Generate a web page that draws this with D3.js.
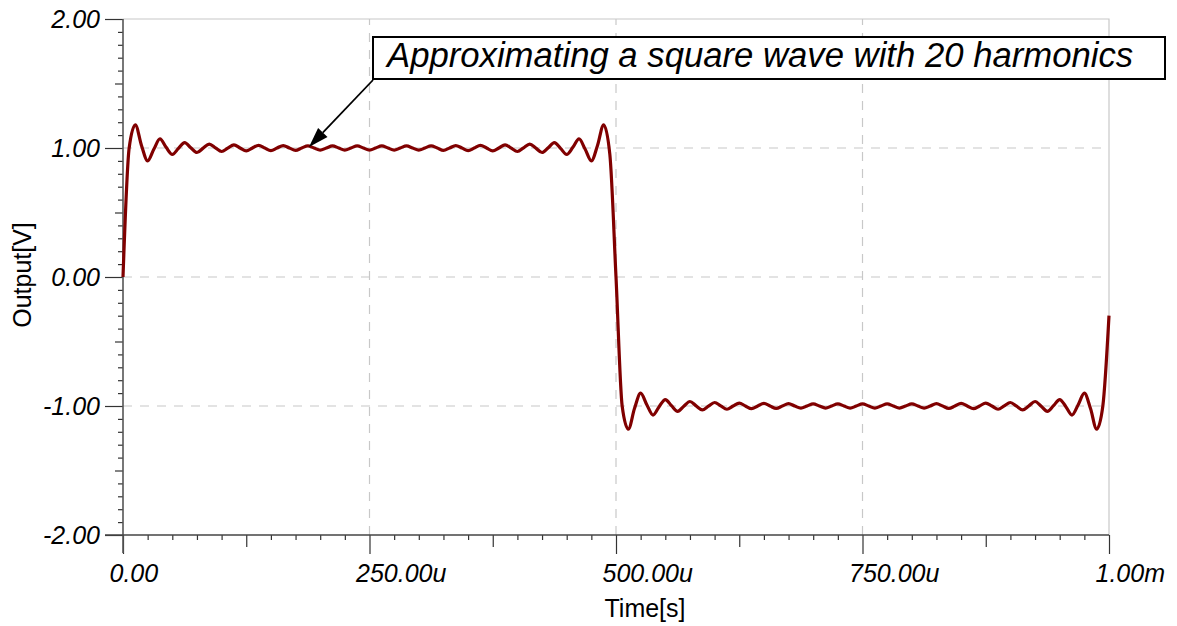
<!DOCTYPE html>
<html>
<head>
<meta charset="utf-8">
<script src="https://cdn.jsdelivr.net/npm/d3@7"></script>
<style>
  html, body { margin: 0; padding: 0; background: #fff; }
  svg { display: block; font-family: "Liberation Sans", Arial, sans-serif; }
</style>
</head>
<body>
<svg id="chart" width="1177" height="626"></svg>
<script>
// ---- data (time in microseconds, output in volts) ----
const timeUs = [
  0,6.25,12.5,18.75,25,31.25,37.5,43.75,50,56.25,62.5,68.75,75,81.25,87.5,93.75,
  100,106.25,112.5,118.75,125,131.25,137.5,143.75,150,156.25,162.5,168.75,175,181.25,187.5,193.75,
  200,206.25,212.5,218.75,225,231.25,237.5,243.75,250,256.25,262.5,268.75,275,281.25,287.5,293.75,
  300,306.25,312.5,318.75,325,331.25,337.5,343.75,350,356.25,362.5,368.75,375,381.25,387.5,393.75,
  400,406.25,412.5,418.75,425,431.25,437.5,443.75,450,456.25,462.5,468.75,475,481.25,487.5,493.75,
  500,506.25,512.5,518.75,525,531.25,537.5,543.75,550,556.25,562.5,568.75,575,581.25,587.5,593.75,
  600,606.25,612.5,618.75,625,631.25,637.5,643.75,650,656.25,662.5,668.75,675,681.25,687.5,693.75,
  700,706.25,712.5,718.75,725,731.25,737.5,743.75,750,756.25,762.5,768.75,775,781.25,787.5,793.75,
  800,806.25,812.5,818.75,825,831.25,837.5,843.75,850,856.25,862.5,868.75,875,881.25,887.5,893.75,
  900,906.25,912.5,918.75,925,931.25,937.5,943.75,950,956.25,962.5,968.75,975,981.25,987.5,993.75,
  1000
];
const outputV = [
  0,1.00,1.18,1.02,0.90,0.99,1.07,1.005,0.95,0.997,1.042,1.002,0.965,0.999,1.030,1.001,
  0.973,0.999,1.025,1.000,0.977,1.000,1.021,1.000,0.980,1.000,1.019,1.000,0.982,1.000,1.017,1.000,
  0.983,1.000,1.016,1.000,0.984,1.000,1.016,1.000,0.984,1.000,1.016,1.000,0.984,1.000,1.016,1.000,
  0.983,1.000,1.017,1.000,0.982,1.000,1.019,1.000,0.980,1.000,1.021,1.000,0.977,1.000,1.025,0.999,
  0.973,1.001,1.030,0.999,0.965,1.002,1.042,0.997,0.95,1.005,1.07,0.99,0.90,1.02,1.18,0.95,
  0,-1.00,-1.18,-1.02,-0.90,-0.99,-1.07,-1.005,-0.95,-0.997,-1.042,-1.002,-0.965,-0.999,-1.030,-1.001,
  -0.973,-0.999,-1.025,-1.000,-0.977,-1.000,-1.021,-1.000,-0.980,-1.000,-1.019,-1.000,-0.982,-1.000,-1.017,-1.000,
  -0.983,-1.000,-1.016,-1.000,-0.984,-1.000,-1.016,-1.000,-0.984,-1.000,-1.016,-1.000,-0.984,-1.000,-1.016,-1.000,
  -0.983,-1.000,-1.017,-1.000,-0.982,-1.000,-1.019,-1.000,-0.980,-1.000,-1.021,-1.000,-0.977,-1.000,-1.025,-0.999,
  -0.973,-1.001,-1.030,-0.999,-0.965,-1.002,-1.042,-0.997,-0.95,-1.005,-1.07,-0.99,-0.90,-1.02,-1.18,-1.00,
  -0.30
];
const xTickValues = [0, 250, 500, 750, 1000];
const xTickLabels = ["0.00", "250.00u", "500.00u", "750.00u", "1.00m"];
const yTickValues = [2, 1, 0, -1, -2];
const yTickLabels = ["2.00", "1.00", "0.00", "-1.00", "-2.00"];
const xTitle = "Time[s]";
const yTitle = "Output[V]";
const noteText = "Approximating a square wave with 20 harmonics";

// ---- layout ----
const L = 123, R = 1109, T = 19, B = 535;
const svg = d3.select("#chart");
const x = d3.scaleLinear().domain([0, 1000]).range([L, R]);
const y = d3.scaleLinear().domain([-2, 2]).range([B, T]);

// frame (top & right)
svg.append("path")
  .attr("d", `M${L},${T}H${R}V${B}`)
  .attr("fill", "none").attr("stroke", "#c8c8c8").attr("stroke-width", 1.2);

// grid
const grid = svg.append("g").attr("stroke", "#c8c8c8").attr("stroke-width", 1.2)
  .attr("stroke-dasharray", "9,8");
xTickValues.filter(v => v > 0 && v < 1000).forEach(v => {
  grid.append("line").attr("x1", x(v)).attr("x2", x(v)).attr("y1", B).attr("y2", T);
});
yTickValues.filter(v => v > -2 && v < 2).forEach(v => {
  grid.append("line").attr("x1", L).attr("x2", R).attr("y1", y(v)).attr("y2", y(v));
});

// minor ticks
const yMinor = d3.range(-20, 21).map(i => i / 10).filter(v => Math.abs(v * 2 - Math.round(v * 2)) > 1e-6);
const yMid = [-1.5, -0.5, 0.5, 1.5];
const xMinor = d3.range(0, 41).map(i => i * 25).filter(v => v % 125 !== 0);
const xMid = [125, 375, 625, 875];

const ax = svg.append("g");
ax.append("g").attr("transform", `translate(${L},0)`)
  .call(d3.axisLeft(y).tickValues(yMinor).tickSize(5).tickFormat(""))
  .call(g => g.select(".domain").remove());
ax.append("g").attr("transform", `translate(${L},0)`)
  .call(d3.axisLeft(y).tickValues(yMid).tickSize(8).tickFormat(""))
  .call(g => g.select(".domain").remove());
ax.append("g").attr("transform", `translate(0,${B})`)
  .call(d3.axisBottom(x).tickValues(xMinor).tickSize(5).tickFormat(""))
  .call(g => g.select(".domain").remove());
ax.append("g").attr("transform", `translate(0,${B})`)
  .call(d3.axisBottom(x).tickValues(xMid).tickSize(12).tickFormat(""))
  .call(g => g.select(".domain").remove());

// major y axis
const yAxisG = svg.append("g").attr("transform", `translate(${L},0)`)
  .call(d3.axisLeft(y).tickValues(yTickValues).tickSize(18).tickPadding(5)
    .tickFormat((d, i) => yTickLabels[i]));
yAxisG.select(".domain").remove();
yAxisG.selectAll("text").attr("font-size", 25).attr("font-style", "italic")
  .attr("font-family", '"Liberation Sans", Arial, sans-serif').attr("fill", "#000");

// major x axis
const xAxisG = svg.append("g").attr("transform", `translate(0,${B})`)
  .call(d3.axisBottom(x).tickValues(xTickValues).tickSize(19).tickPadding(10)
    .tickFormat((d, i) => xTickLabels[i]));
xAxisG.select(".domain").remove();
xAxisG.selectAll("text").attr("font-size", 25).attr("font-style", "italic")
  .attr("font-family", '"Liberation Sans", Arial, sans-serif').attr("fill", "#000")
  .attr("text-anchor", "start").attr("x", -14);

svg.selectAll(".tick line").attr("stroke", "#333").attr("stroke-width", 1.2);

// axis lines
svg.append("line").attr("x1", L).attr("x2", L).attr("y1", T).attr("y2", B + 18)
  .attr("stroke", "#555").attr("stroke-width", 1.6);
svg.append("line").attr("x1", L - 18).attr("x2", R).attr("y1", B).attr("y2", B)
  .attr("stroke", "#444").attr("stroke-width", 1.4);

// axis titles
svg.append("text").attr("x", 645).attr("y", 617).attr("text-anchor", "middle")
  .attr("font-size", 25).text(xTitle);
svg.append("text").attr("transform", "translate(31,275) rotate(-90)")
  .attr("text-anchor", "middle").attr("font-size", 25).text(yTitle);

// curve
const pts = timeUs.map((t, i) => [t, outputV[i]]);
svg.append("path").datum(pts)
  .attr("d", d3.line().x(d => x(d[0])).y(d => y(d[1])).curve(d3.curveMonotoneX))
  .attr("fill", "none").attr("stroke", "#800000").attr("stroke-width", 3.2)
  .attr("stroke-linejoin", "round");

// annotation
const box = { x: 373, y: 37, w: 792, h: 42 };
svg.append("rect").attr("x", box.x).attr("y", box.y).attr("width", box.w).attr("height", box.h)
  .attr("fill", "#fff").attr("stroke", "#000").attr("stroke-width", 2);
svg.append("text").attr("x", 387).attr("y", 67).attr("font-size", 34.7)
  .attr("font-style", "italic").text(noteText);

const a0 = [box.x, box.y + box.h + 1], a1 = [309, 147];
const dx = a1[0] - a0[0], dy = a1[1] - a0[1], len = Math.hypot(dx, dy);
const ux = dx / len, uy = dy / len, hl = 20, hw = 6.5;
const bx = a1[0] - ux * hl, by = a1[1] - uy * hl;
svg.append("line").attr("x1", a0[0]).attr("y1", a0[1]).attr("x2", bx).attr("y2", by)
  .attr("stroke", "#000").attr("stroke-width", 1.8);
svg.append("path")
  .attr("d", `M${a1[0]},${a1[1]}L${bx - uy * hw},${by + ux * hw}L${bx + uy * hw},${by - ux * hw}Z`)
  .attr("fill", "#000");
</script>
</body>
</html>
